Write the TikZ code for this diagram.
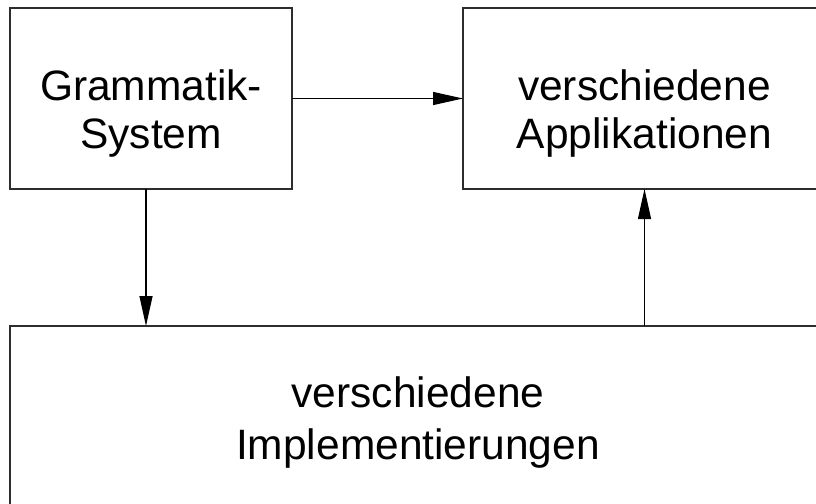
\documentclass[tikz,border=0pt]{standalone}
\usepackage{fontspec}
\setmainfont{Liberation Sans}
\usetikzlibrary{arrows.meta}
\definecolor{boxline}{RGB}{45,45,45}
\tikzset{
  box/.style={draw=boxline, line width=1.2pt, rectangle, inner sep=0pt, outer sep=0pt},
  label/.style={font=\fontsize{42.5}{48.5}\selectfont, align=center, anchor=base, inner sep=0pt},
  arr/.style={draw=black, line width=1.2pt, -{Triangle[length=30pt,width=13pt]}}
}
\begin{document}
\begin{tikzpicture}[x=1pt,y=-1pt]
\useasboundingbox (0,0) rectangle (816,503);
\clip (0,0) rectangle (816,503);
\node[box, minimum width=282pt, minimum height=181pt] (A) at (151,98.5) {};
\node[box, minimum width=363pt, minimum height=181pt] (B) at (644.5,98.5) {};
\node[box, minimum width=816pt, minimum height=300pt] (C) at (418,476) {};
\node[label] (tA) at (151,148.5) {Grammatik-\\System};
\node[label] (tB) at (644.5,148.5) {verschiedene\\Applikationen};
\node[label, font=\fontsize{42.5}{52}\selectfont] (tC) at (418,459) {verschiedene\\Implementierungen};
\coordinate (d1) at (146,0);
\draw[arr] (A) -- (B);
\draw[arr] (A.south -| d1) -- (C.north -| d1);
\draw[arr] (C.north -| B) -- (B.south);
\end{tikzpicture}
\end{document}
